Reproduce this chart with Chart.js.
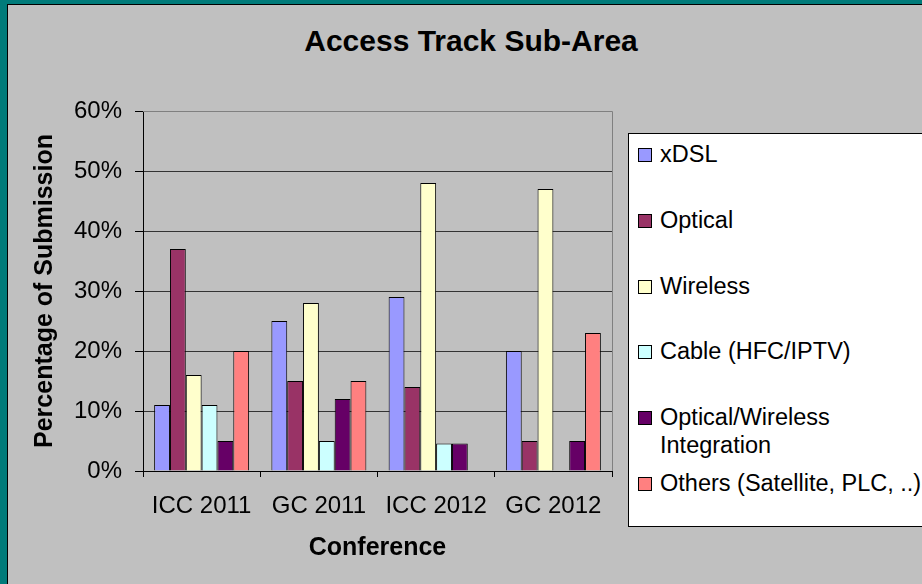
<!DOCTYPE html>
<html lang="en">
<head>
    <meta charset="UTF-8">
    <title>Access Track Sub-Area</title>
    <script src="https://cdn.jsdelivr.net/npm/chart.js"></script>
    <style>
        html, body { margin: 0; padding: 0; }
        body {
            width: 922px; height: 584px; overflow: hidden; position: relative;
            background: #007b7a;
            font-family: "Liberation Sans", Arial, sans-serif;
        }
        .panel {
            position: absolute; left: 7px; top: 4px; width: 940px; height: 600px;
            background: #c0c0c0; border-left: 1px solid #000; border-top: 1px solid #000;
        }
        .title {
            position: absolute; left: 0; top: 24px; width: 942px; text-align: center;
            font-size: 30px; font-weight: bold; line-height: 34px; color: #000;
        }
        canvas { position: absolute; left: 0; top: 0; }
        .legend {
            position: absolute; left: 628px; top: 133px; width: 320px; height: 394px;
            background: #fff; border: 1px solid #000; box-sizing: border-box;
        }
        .legend .item { position: absolute; left: 0; width: 270px; }
        .legend .box {
            position: absolute; left: 9px; top: 8px; width: 12px; height: 12px;
            border: 1px solid #000;
        }
        .legend .txt {
            position: absolute; left: 31px; top: 0; width: 265px;
            font-size: 23.5px; line-height: 28px; color: #000;
        }
    </style>
</head>
<body>
    <div class="panel"></div>
    <div class="title">Access Track Sub-Area</div>
    <canvas id="chart" width="922" height="584"></canvas>
    <div class="legend" id="legend"></div>

    <script>
        const conferences = ['ICC 2011', 'GC 2011', 'ICC 2012', 'GC 2012'];
        const seriesNames = ['xDSL', 'Optical', 'Wireless', 'Cable (HFC/IPTV)', 'Optical/Wireless Integration', 'Others (Satellite, PLC, ..)'];
        const seriesColors = ['#9999ff', '#993366', '#ffffcc', '#ccffff', '#660066', '#ff8080'];

        // percentage of submissions per conference
        const xdsl = [11, 25, 29, 20];
        const optical = [37, 15, 14, 5];
        const wireless = [16, 28, 48, 47];
        const cable = [11, 5, 4.6, 0];
        const opticalWireless = [5, 12, 4.6, 5];
        const others = [20, 15, 0, 23];

        const seriesValues = [xdsl, optical, wireless, cable, opticalWireless, others];

        // gray frame on top/right of the plot area
        const plotFrame = {
            id: 'plotFrame',
            beforeDatasetsDraw(chart) {
                const { ctx, chartArea } = chart;
                ctx.save();
                ctx.strokeStyle = '#808080';
                ctx.lineWidth = 1;
                ctx.beginPath();
                ctx.moveTo(chartArea.left, chartArea.top + 0.5);
                ctx.lineTo(chartArea.right + 0.5, chartArea.top + 0.5);
                ctx.lineTo(chartArea.right + 0.5, chartArea.bottom);
                ctx.stroke();
                ctx.restore();
            }
        };

        Chart.defaults.font.family = '"Liberation Sans", Arial, sans-serif';
        Chart.defaults.color = '#000';

        new Chart(document.getElementById('chart').getContext('2d'), {
            type: 'bar',
            data: {
                labels: conferences,
                datasets: seriesNames.map((name, i) => ({
                    label: name,
                    data: seriesValues[i],
                    backgroundColor: seriesColors[i],
                    borderColor: '#000',
                    borderWidth: 1,
                    borderSkipped: 'bottom',
                    categoryPercentage: 0.81,
                    barPercentage: 1.0
                }))
            },
            options: {
                responsive: false,
                animation: false,
                layout: { padding: { left: 30, top: 111, right: 310, bottom: 0 } },
                plugins: {
                    legend: { display: false },
                    title: { display: false },
                    tooltip: { enabled: false }
                },
                scales: {
                    x: {
                        afterFit(scale) { scale.height = 113; },
                        grid: {
                            offset: true,
                            drawOnChartArea: false,
                            tickLength: 6,
                            color: '#000'
                        },
                        border: { color: '#000', width: 1 },
                        ticks: { font: { size: 24 }, padding: 15, maxRotation: 0 },
                        title: {
                            display: true,
                            text: 'Conference',
                            font: { size: 25, weight: 'bold' },
                            padding: { top: 0, bottom: 21 }
                        }
                    },
                    y: {
                        min: 0,
                        max: 60,
                        afterFit(scale) { scale.width = 113; },
                        grid: {
                            color: ctx => ctx.tick && ctx.tick.value === 60 ? '#808080' : '#333',
                            tickColor: '#000',
                            tickLength: 8
                        },
                        border: { color: '#000', width: 1 },
                        ticks: {
                            stepSize: 10,
                            font: { size: 24 },
                            padding: 13,
                            callback: v => v + '%'
                        },
                        title: {
                            display: true,
                            text: 'Percentage of Submission',
                            font: { size: 25, weight: 'bold' },
                            padding: { top: 0, bottom: 0 }
                        }
                    }
                }
            },
            plugins: [plotFrame]
        });

        // legend box on the right
        const legend = document.getElementById('legend');
        seriesNames.forEach((name, i) => {
            const item = document.createElement('div');
            item.className = 'item';
            item.style.top = (6 + i * 65.8) + 'px';
            const box = document.createElement('div');
            box.className = 'box';
            box.style.background = seriesColors[i];
            const txt = document.createElement('div');
            txt.className = 'txt';
            txt.textContent = name;
            item.appendChild(box);
            item.appendChild(txt);
            legend.appendChild(item);
        });
    </script>
</body>
</html>
